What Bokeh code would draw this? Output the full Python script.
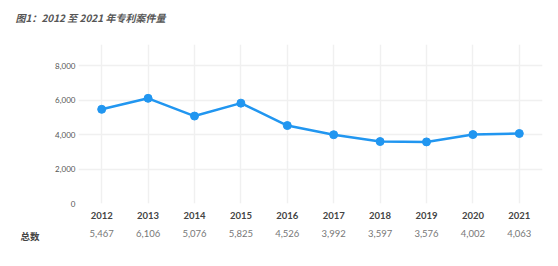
from bokeh.plotting import figure
from bokeh.models import (ColumnDataSource, Title, NumeralTickFormatter, FixedTicker, Range1d,
                          FactorRange, CategoricalAxis)
from bokeh.embed import file_html
from bokeh.resources import INLINE

years = ["2012", "2013", "2014", "2015", "2016", "2017", "2018", "2019", "2020", "2021"]
totals = [5467, 6106, 5076, 5825, 4526, 3992, 3597, 3576, 4002, 4063]
y_ticks = [0, 2000, 4000, 6000, 8000]
title_text = "图1：2012 至 2021 年专利案件量"
row_label = "总数"

value_labels = [f"{v:,}" for v in totals]
src = ColumnDataSource(dict(year=years, total=totals))

p = figure(width=558, height=266, x_range=years, y_range=Range1d(0, 9230),
           output_backend="svg", toolbar_location=None,
           min_border_left=78, min_border_right=16, min_border_top=44, min_border_bottom=63)
p.outline_line_color = None
p.background_fill_color = "white"
p.extra_x_ranges = {"vals": FactorRange(factors=value_labels)}

p.title = Title(text=title_text, align="left", offset=-63, standoff=-70, vertical_align="top",
                text_font="Noto Sans CJK SC", text_font_size="10px", text_font_style="bold italic",
                text_color="#555555")

p.line("year", "total", source=src, line_color="#2196f0", line_width=2.5)
p.scatter("year", "total", source=src, size=8, fill_color="#2196f0", line_color="#2196f0")

p.yaxis.ticker = FixedTicker(ticks=y_ticks)
p.yaxis.formatter = NumeralTickFormatter(format="0,0")
p.yaxis.axis_line_color = None
p.yaxis.major_tick_line_color = None
p.yaxis.major_tick_out = 0
p.yaxis.major_tick_in = 0
p.yaxis.minor_tick_line_color = None
p.yaxis.major_label_text_font = "Lato"
p.yaxis.major_label_text_font_size = "8px"
p.yaxis.major_label_text_color = "#555555"
p.yaxis.major_label_standoff = 3

p.xaxis.axis_line_color = None
p.xaxis.major_tick_line_color = None
p.xaxis.major_tick_out = 0
p.xaxis.major_tick_in = 0
p.xaxis.major_label_text_font = "Lato"
p.xaxis.major_label_text_font_size = "9.5px"
p.xaxis.major_label_text_font_style = "bold"
p.xaxis.major_label_text_color = "#444444"
p.xaxis.major_label_standoff = 8

ax2 = CategoricalAxis(x_range_name="vals", axis_line_color=None, major_tick_line_color=None,
                      major_tick_out=0, major_tick_in=0,
                      major_label_text_font="Lato", major_label_text_font_size="9.5px",
                      major_label_text_color="#777777", major_label_standoff=8)
p.add_layout(ax2, "below")

p.add_layout(Title(text=row_label, align="left", offset=-58, standoff=-22, vertical_align="top",
                   text_font="Noto Sans CJK SC", text_font_size="9.5px", text_font_style="bold",
                   text_color="#444444"), "below")

p.xgrid.grid_line_color = "#f0f0f0"
p.ygrid.grid_line_color = "#f0f0f0"
p.xgrid.grid_line_width = 1.5
p.ygrid.grid_line_width = 1.5

open("out.html", "w").write(file_html(p, INLINE))
